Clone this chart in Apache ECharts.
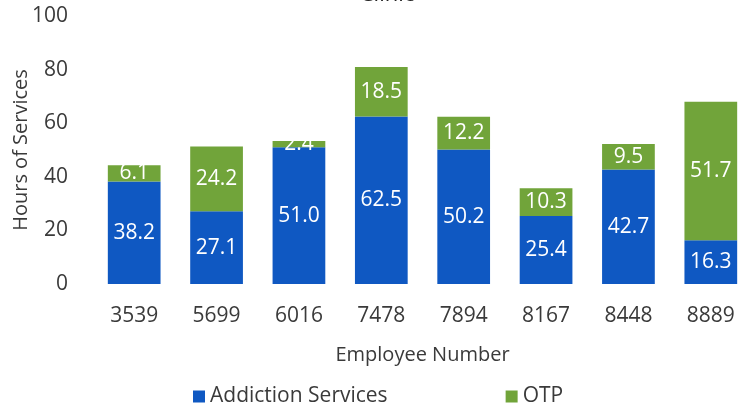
<!DOCTYPE html>
<html>
<head>
<meta charset="utf-8">
<script src="https://cdn.jsdelivr.net/npm/echarts@6/dist/echarts.min.js"></script>
<style>
  html, body { margin: 0; padding: 0; background: #fff; }
  #chart { width: 754px; height: 409px; }
</style>
</head>
<body>
<div id="chart"></div>
<script>
// Hours of services per employee, split by service type
const employees = ['3539', '5699', '6016', '7478', '7894', '8167', '8448', '8889'];
const addictionServices = [38.2, 27.1, 51.0, 62.5, 50.2, 25.4, 42.7, 16.3];
const otp = [6.1, 24.2, 2.4, 18.5, 12.2, 10.3, 9.5, 51.7];
const yTicks = [0, 20, 40, 60, 80, 100];

const FONT = '"Open Sans", "Liberation Sans", sans-serif';
const TEXT = '#3a3a3a';

const chart = echarts.init(document.getElementById('chart'));

const barLabel = {
  show: true,
  position: 'inside',
  color: '#fff',
  fontFamily: FONT,
  fontSize: 21,
  formatter: p => p.value.toFixed(1)
};

chart.setOption({
  animation: false,
  title: {
    text: 'Clinic',
    left: 382,
    textAlign: 'center',
    top: -21,
    textStyle: { fontFamily: FONT, fontSize: 22, fontWeight: 'normal', color: '#222' }
  },
  grid: { left: 93, right: 2, top: 16, bottom: 125, outerBoundsMode: 'none' },
  legend: {
    top: 381,
    left: 188,
    itemGap: 118,
    itemWidth: 12,
    itemHeight: 12,
    icon: 'rect',
    textStyle: { fontFamily: FONT, fontSize: 21, color: TEXT, letterSpacing: 0.5 },
    data: ['Addiction Services', 'OTP']
  },
  xAxis: {
    type: 'category',
    data: employees,
    name: 'Employee Number',
    nameLocation: 'middle',
    nameGap: 61,
    nameMoveOverlap: false,
    nameTextStyle: { fontFamily: FONT, fontSize: 20, color: TEXT },
    axisLine: { show: false },
    axisTick: { show: false },
    axisLabel: { fontFamily: FONT, fontSize: 21, color: TEXT, margin: 22 }
  },
  yAxis: {
    type: 'value',
    min: yTicks[0],
    max: yTicks[yTicks.length - 1],
    interval: yTicks[1] - yTicks[0],
    name: 'Hours of Services',
    nameLocation: 'middle',
    nameGap: 62,
    nameMoveOverlap: false,
    nameTextStyle: { fontFamily: FONT, fontSize: 20, color: TEXT },
    splitLine: { show: false },
    axisLine: { show: false },
    axisTick: { show: false },
    axisLabel: { fontFamily: FONT, fontSize: 21, color: TEXT, margin: 25 }
  },
  series: [
    {
      name: 'Addiction Services',
      type: 'bar',
      stack: 'hours',
      barCategoryGap: '36%',
      itemStyle: { color: '#0f58c2' },
      label: barLabel,
      data: addictionServices
    },
    {
      name: 'OTP',
      type: 'bar',
      stack: 'hours',
      barCategoryGap: '36%',
      itemStyle: { color: '#71a43a' },
      label: barLabel,
      data: otp
    }
  ]
});
</script>
</body>
</html>
